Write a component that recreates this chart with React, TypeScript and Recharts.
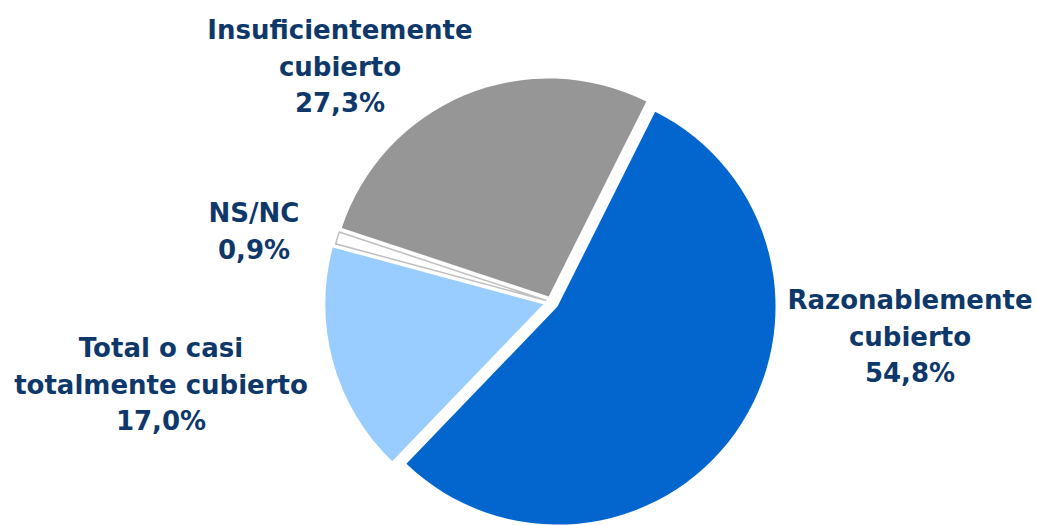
import React from 'react';
import { PieChart, Pie, Cell } from 'recharts';

// ---- Data ----
const categories = [
  'Razonablemente cubierto',
  'Total o casi totalmente cubierto',
  'NS/NC',
  'Insuficientemente cubierto',
];
const values = [54.8, 17.0, 0.9, 27.3];
const valueLabels = ['54,8%', '17,0%', '0,9%', '27,3%'];
const labelLines = [
  ['Razonablemente', 'cubierto'],
  ['Total o casi', 'totalmente cubierto'],
  ['NS/NC'],
  ['Insuficientemente', 'cubierto'],
];

// ---- Style ----
const COLORS = ['#0366CF', '#99CCFF', '#FFFFFF', '#969696'];
const STROKES = ['none', 'none', '#BFBFBF', 'none'];
const EXPLODE = [8, 8, 5, 6];
const LABEL_POS = [
  { x: 910, y: 309 },
  { x: 161, y: 357 },
  { x: 254, y: 222 },
  { x: 340, y: 39 },
];
const LINE_H = 36.7;
const TEXT_COLOR = '#0E386A';
const FONT = '"DejaVu Sans", Verdana, sans-serif';

const CX = 551;
const CY = 302;
const R = 218;
const START = 63.4;
const END = START - 360;

const data = categories.map((name, i) => ({ name, value: values[i] }));

const total = values.reduce((a, b) => a + b, 0);
const offsets = values.map((v, i) => {
  const cum = values.slice(0, i).reduce((a, b) => a + b, 0);
  const mid = ((START - ((cum + v / 2) / total) * 360) * Math.PI) / 180;
  return { dx: EXPLODE[i] * Math.cos(mid), dy: -EXPLODE[i] * Math.sin(mid) };
});

const renderLabel = (props: any) => {
  const i = props.index;
  const pos = LABEL_POS[i];
  const lines = [...labelLines[i], valueLabels[i]];
  return (
    <text
      key={`lbl-${i}`}
      x={pos.x}
      y={pos.y}
      textAnchor="middle"
      fill={TEXT_COLOR}
      fontFamily={FONT}
      fontWeight="bold"
      fontSize={26}
    >
      {lines.map((t, k) => (
        <tspan key={k} x={pos.x} y={pos.y + k * LINE_H}>
          {t}
        </tspan>
      ))}
    </text>
  );
};

export default function App() {
  return (
    <div style={{ position: 'absolute', left: 0, top: 0, background: '#fff' }}>
      <PieChart width={1037} height={525} margin={{ top: 0, right: 0, bottom: 0, left: 0 }}>
        {values.map((_, s) => (
          <Pie
            key={s}
            data={data}
            dataKey="value"
            nameKey="name"
            cx={CX + offsets[s].dx}
            cy={CY + offsets[s].dy}
            innerRadius={0}
            outerRadius={R}
            startAngle={START}
            endAngle={END}
            isAnimationActive={false}
            label={s === 0 ? renderLabel : false}
            labelLine={false}
            legendType="none"
            stroke="none"
          >
            {data.map((d, i) => (
              <Cell
                key={i}
                fill={i === s ? COLORS[i] : 'none'}
                stroke={i === s ? STROKES[i] : 'none'}
                strokeWidth={1.5}
              />
            ))}
          </Pie>
        ))}
      </PieChart>
    </div>
  );
}
